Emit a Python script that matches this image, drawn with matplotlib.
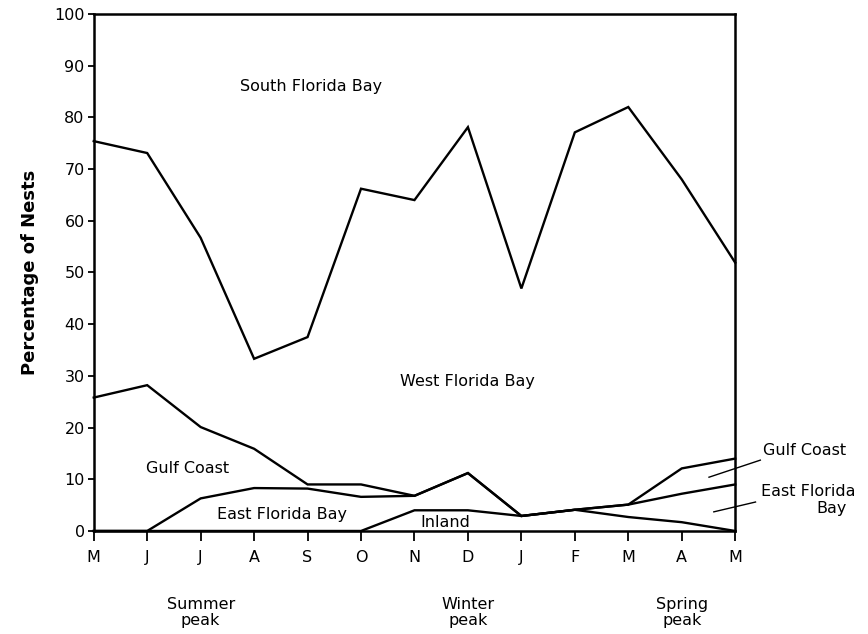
import matplotlib
matplotlib.use('Agg')
import matplotlib.pyplot as plt

months = ['M', 'J', 'J', 'A', 'S', 'O', 'N', 'D', 'J', 'F', 'M', 'A', 'M']

# boundary lines between the stacked regions (percentage of nests)
south_west = [75.4, 73.1, 56.7, 33.3, 37.5, 66.2, 64.0, 78.1, 46.9, 77.1, 82.0, 68.0, 51.9]
west_gulf = [25.8, 28.2, 20.1, 15.9, 9.0, 9.0, 6.8, 11.2, 2.9, 4.1, 5.1, 12.1, 14.0]
gulf_east = [0, 0, 6.3, 8.3, 8.2, 6.6, 6.8, 11.2, 2.9, 4.1, 5.1, 7.2, 9.0]
east_inland = [0, 0, 0, 0, 0, 0, 4.0, 4.0, 2.9, 4.1, 2.7, 1.7, 0]

peaks = ['Summer\npeak', 'Winter\npeak', 'Spring\npeak']
peak_pos = [2, 7, 11]

plt.rcParams['font.family'] = ['DejaVu Sans']

fig = plt.figure(figsize=(8.68, 6.34), dpi=100)
ax = fig.add_axes([0.108, 0.1625, 0.739, 0.8155])

x = list(range(len(months)))
for line in [south_west, west_gulf, gulf_east, east_inland]:
    ax.plot(x, line, color='black', lw=1.7, solid_joinstyle='miter', clip_on=False)

ax.set_xlim(0, 12)
ax.set_ylim(0, 100)
ax.set_xticks(x)
ax.set_xticklabels(months)
ax.set_yticks(range(0, 101, 10))
ax.tick_params(axis='both', direction='out', width=1.3, labelsize=11.5)
ax.tick_params(axis='x', length=7, pad=7)
ax.tick_params(axis='y', length=4.5, pad=2)
for s in ax.spines.values():
    s.set_linewidth(1.8)

ax.set_ylabel('Percentage of Nests', fontsize=13, fontweight='bold', labelpad=11)

fs = 11.5
# region labels
ax.text(4.07, 86, 'South Florida Bay', fontsize=fs, ha='center', va='center')
ax.text(7.0, 29, 'West Florida Bay', fontsize=fs, ha='center', va='center')
ax.text(1.75, 12, 'Gulf Coast', fontsize=fs, ha='center', va='center')
ax.text(3.53, 3.1, 'East Florida Bay', fontsize=fs, ha='center', va='center')
ax.text(6.57, 1.7, 'Inland', fontsize=fs, ha='center', va='center')

ax.text(13.3, 15.5, 'Gulf Coast', fontsize=fs, ha='center', va='center', clip_on=False)
ax.text(13.37, 7.7, 'East Florida', fontsize=fs, ha='center', va='center', clip_on=False)
ax.text(13.8, 4.3, 'Bay', fontsize=fs, ha='center', va='center', clip_on=False)
ax.plot([11.51, 12.47], [10.4, 13.7], color='black', lw=1.0, clip_on=False)
ax.plot([11.6, 12.38], [3.7, 5.6], color='black', lw=1.0, clip_on=False)

for label, pos in zip(peaks, peak_pos):
    ax.text(pos, -15.8, label, fontsize=fs, ha='center', va='center',
            linespacing=1.1, clip_on=False)

fig.savefig('out.png', dpi=100)
